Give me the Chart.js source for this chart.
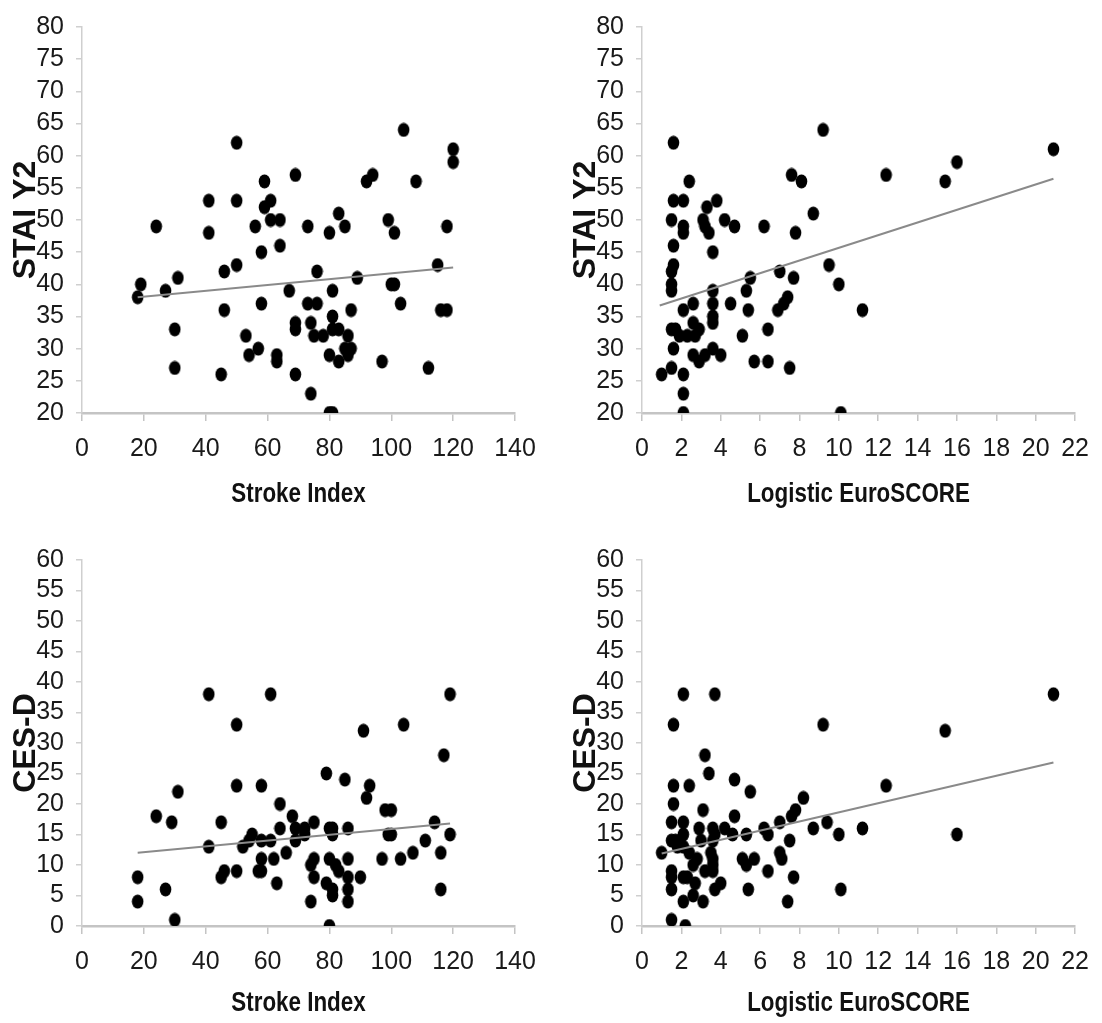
<!DOCTYPE html>
<html>
<head>
<meta charset="utf-8">
<script src="https://cdn.jsdelivr.net/npm/chart.js@4.4.1/dist/chart.umd.min.js"></script>
<style>
  body { margin: 0; background: #fff; }
  #wrap { position: relative; width: 1102px; height: 1023px; }
  canvas { position: absolute; }
</style>
</head>
<body>
<div id="wrap">
  <canvas id="c1" width="560" height="520" style="left:0;top:0"></canvas>
  <canvas id="c2" width="542" height="520" style="left:560px;top:0"></canvas>
  <canvas id="c3" width="560" height="503" style="left:0;top:520px"></canvas>
  <canvas id="c4" width="542" height="503" style="left:560px;top:520px"></canvas>
</div>
<script>
// panel 1: Stroke Index vs STAI Y2
const strokeA = [18, 19, 24, 27, 31, 30, 30, 41, 41, 50, 50, 50, 46, 46, 45, 53, 54, 57, 56, 59, 59, 61, 61, 64, 64, 58, 58, 63, 63, 69, 67, 69, 69, 69,
  73, 76, 73, 76, 74, 75, 78, 74, 80, 83, 85, 81, 81, 81, 83, 80, 83, 87, 86, 85, 87, 86, 80, 81, 89, 92, 94, 97, 99, 101, 100, 101, 103, 104, 108,
  112, 115, 116, 118, 118, 120, 120];
const staiA = [38, 40, 49, 39, 41, 33, 27, 53, 48, 62, 53, 43, 42, 36, 26, 32, 29, 30, 49, 56, 52, 53, 50, 50, 46, 45, 37, 29, 28, 57, 39, 26, 34, 33,
  49, 42, 37, 37, 34, 32, 32, 23, 48, 51, 49, 39, 35, 33, 33, 29, 28, 36, 32, 30, 30, 29, 20, 20, 41, 56, 57, 28, 50, 48, 40, 40, 37, 64, 56,
  27, 43, 36, 36, 49, 61, 59];
const trendAx = [18, 120];
const trendAy = [38, 42.6];

// panel 2: Logistic EuroSCORE vs STAI Y2
const euroB = [1.0, 1.6, 1.6, 2.1, 1.5, 1.6, 1.6, 1.5, 1.5, 1.5, 1.5, 1.7, 1.6, 1.5, 2.1, 2.1, 2.1, 2.1, 2.1, 2.1, 1.9, 2.3, 2.4, 2.6, 2.6, 2.7,
  2.9, 2.6, 2.9, 3.2, 3.1, 3.3, 3.2, 3.4, 3.8, 3.6, 3.6, 3.6, 3.6, 3.6, 3.6, 4.0, 4.2, 4.7, 4.5, 5.1, 5.3, 5.5, 5.4, 5.7, 6.2, 6.4, 6.4, 7.0,
  6.9, 7.2, 7.4, 7.5, 7.6, 7.7, 7.8, 8.1, 8.7, 9.2, 9.5, 10.0, 11.2, 10.1, 12.4, 15.4, 16.0, 20.9];
const staiB = [26, 62, 53, 53, 50, 46, 43, 42, 40, 39, 33, 33, 30, 27, 26, 23, 20, 36, 49, 48, 32, 32, 56, 37, 34, 32,
  33, 29, 28, 29, 50, 52, 49, 48, 53, 45, 39, 37, 35, 34, 30, 29, 50, 49, 37, 32, 39, 41, 36, 28, 49, 33, 28, 42,
  36, 37, 38, 27, 57, 41, 48, 56, 51, 64, 43, 40, 36, 20, 57, 56, 59, 61];
const trendBx = [0.9, 20.9];
const trendBy = [36.7, 56.4];

// panel 3: Stroke Index vs CES-D
const strokeC = [18, 18, 24, 27, 29, 30, 31, 41, 41, 45, 46, 45, 50, 50, 50, 52, 54, 55, 57, 58, 58, 58, 61, 58, 62, 61, 63, 64, 64, 66,
  68, 69, 69, 72, 72, 74, 74, 75, 75, 75, 79, 79, 80, 81, 81, 80, 80, 81, 81, 82, 83, 85, 86, 86, 86, 86, 86, 90, 91, 92, 93, 97, 98,
  100, 99, 100, 103, 104, 107, 111, 114, 116, 116, 117, 119, 119];
const cesdC = [8, 4, 18, 6, 17, 1, 22, 38, 13, 8, 9, 17, 33, 23, 9, 13, 14, 15, 9, 9, 23, 14, 14, 11, 11, 38, 7, 20, 16, 12,
  18, 16, 14, 16, 15, 10, 4, 17, 8, 11, 25, 7, 16, 16, 15, 11, 0, 5, 6, 10, 9, 24, 16, 11, 8, 6, 4, 8, 32, 21, 23, 11, 19,
  19, 15, 15, 11, 33, 12, 14, 17, 12, 6, 28, 38, 15];
const trendCx = [18, 119];
const trendCy = [12.0, 16.8];

// panel 4: Logistic EuroSCORE vs CES-D
const euroD = [1.0, 1.5, 1.5, 1.5, 1.5, 1.5, 1.7, 1.5, 1.6, 1.6, 1.6, 1.8, 2.1, 2.1, 2.1, 2.1, 2.1, 2.3, 2.1, 2.2, 2.4, 2.4,
  2.6, 2.7, 2.6, 2.8, 2.9, 3.0, 3.1, 3.1, 3.2, 3.2, 3.4, 3.5, 3.6, 3.6, 3.6, 3.6, 3.6, 3.7, 3.7, 3.7, 4.0, 4.2, 4.6, 4.7, 4.7,
  5.1, 5.3, 5.3, 5.4, 5.5, 5.7, 6.2, 6.4, 6.4, 7.0, 7.1, 7.0, 7.4, 7.5, 7.6, 7.7, 7.8, 8.2, 8.7, 9.2, 9.4, 10.0, 10.1, 11.2,
  12.4, 15.4, 16.0, 20.9];
const cesdD = [12, 1, 6, 8, 9, 14, 14, 17, 20, 23, 33, 13, 13, 15, 17, 38, 8, 8, 4, 0, 12, 23,
  5, 7, 10, 11, 16, 14, 4, 19, 9, 28, 25, 12, 9, 10, 11, 14, 16, 6, 15, 38, 7, 16, 15, 18, 24,
  11, 10, 15, 6, 22, 11, 16, 9, 15, 12, 11, 17, 4, 14, 18, 8, 19, 21, 16, 33, 17, 15, 6, 16,
  23, 32, 15, 38];
const trendDx = [1.0, 20.9];
const trendDy = [11.9, 26.8];

const strokeTicksMax = 140, strokeStep = 20;
const euroTicksMax = 22, euroStep = 2;

// slightly tall black dot like the original markers
function makeDot() {
  const c = document.createElement('canvas');
  c.width = 13; c.height = 15;
  const g = c.getContext('2d');
  g.fillStyle = '#000';
  g.beginPath();
  g.ellipse(6.5, 7.5, 5.8, 7, 0, 0, Math.PI * 2);
  g.fill();
  return c;
}
const dot = makeDot();

const tickFont = { family: "'Liberation Sans', Arial, sans-serif", size: 25 };
const yTitleFont = { family: "'Liberation Sans', Arial, sans-serif", size: 32, weight: 'bold' };

// x titles in the original are a narrow bold face -> squeeze horizontally
const narrowTitle = {
  id: 'narrowTitle',
  afterDraw(chart, args, o) {
    const s = chart.scales.x;
    const ctx = chart.ctx;
    ctx.save();
    ctx.font = "bold 28px 'Liberation Sans', Arial, sans-serif";
    ctx.fillStyle = '#111';
    ctx.textAlign = 'center';
    ctx.textBaseline = 'middle';
    ctx.translate((s.left + s.right) / 2, s.bottom - o.offset);
    ctx.scale(0.8, 1);
    ctx.fillText(o.text, 0, 0);
    ctx.restore();
  }
};

function panel(id, xs, ys, tx, ty, opt) {
  const pts = xs.map((x, i) => ({ x: x, y: ys[i] }));
  const line = tx.map((x, i) => ({ x: x, y: ty[i] }));
  new Chart(document.getElementById(id), {
    type: 'scatter',
    data: {
      datasets: [
        { data: pts, pointStyle: dot, pointRadius: 6, order: 2 },
        { data: line, showLine: true, borderColor: '#8a8a8a', borderWidth: 2, pointRadius: 0, order: 1 }
      ]
    },
    plugins: [narrowTitle],
    options: {
      responsive: false,
      animation: false,
      layout: { padding: { top: opt.padTop, right: opt.padRight, left: 0, bottom: 0 } },
      plugins: {
        legend: { display: false },
        tooltip: { enabled: false },
        narrowTitle: { text: opt.xTitle, offset: opt.titleOffset }
      },
      scales: {
        x: {
          type: 'linear', min: 0, max: opt.xMax,
          ticks: { stepSize: opt.xStep, autoSkip: false, maxRotation: 0, padding: 13, color: '#1a1a1a', font: tickFont },
          grid: { drawOnChartArea: false, tickLength: 8, color: '#c4c4c4', lineWidth: 1.5 },
          border: { color: '#c4c4c4', width: 2.5 },
          afterFit: s => { s.height = opt.xH; }
        },
        y: {
          min: opt.yMin, max: opt.yMax,
          ticks: { stepSize: 5, autoSkip: false, padding: 12, color: '#1a1a1a', font: tickFont },
          grid: { drawOnChartArea: false, tickLength: 6, color: '#cfcfcf', lineWidth: 1.5 },
          border: { color: '#cfcfcf', width: 1.5 },
          title: { display: true, text: opt.yTitle, color: '#111', font: yTitleFont, padding: { top: 7, bottom: 0 } },
          afterFit: s => { s.width = 82; }
        }
      }
    }
  });
}

panel('c1', strokeA, staiA, trendAx, trendAy, { padTop: 20, padRight: 45, xMax: strokeTicksMax, xStep: strokeStep, xTitle: 'Stroke Index', titleOffset: 26, xH: 107, yMin: 20, yMax: 80, yTitle: 'STAI Y2' });
panel('c2', euroB, staiB, trendBx, trendBy, { padTop: 20, padRight: 20, xMax: euroTicksMax, xStep: euroStep, xTitle: 'Logistic EuroSCORE', titleOffset: 26, xH: 107, yMin: 20, yMax: 80, yTitle: 'STAI Y2' });
panel('c3', strokeC, cesdC, trendCx, trendCy, { padTop: 40, padRight: 45, xMax: strokeTicksMax, xStep: strokeStep, xTitle: 'Stroke Index', titleOffset: 20, xH: 97, yMin: 0, yMax: 60, yTitle: 'CES-D' });
panel('c4', euroD, cesdD, trendDx, trendDy, { padTop: 40, padRight: 20, xMax: euroTicksMax, xStep: euroStep, xTitle: 'Logistic EuroSCORE', titleOffset: 20, xH: 97, yMin: 0, yMax: 60, yTitle: 'CES-D' });
</script>
</body>
</html>
